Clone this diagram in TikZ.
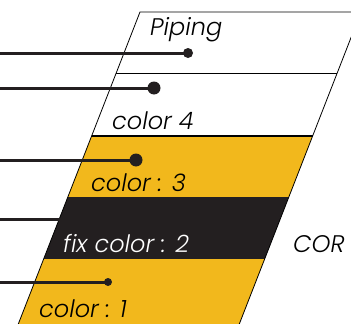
\documentclass[tikz,border=0pt]{standalone}
\usepackage{fontspec}
\newfontfamily\labelfont{Poppins}[ItalicFont={Poppins Light Italic}]
\usepackage{tikz}
\usetikzlibrary{positioning, calc}
\definecolor{bandyellow}{RGB}{242, 184, 28}
\definecolor{bandblack}{RGB}{35, 31, 32}
\definecolor{leadgray}{RGB}{35, 31, 32}

\begin{document}
\begin{tikzpicture}[
  x=1pt, y=-1pt,
  outline/.style={draw=black, line width=0.8pt},
  leader/.style={draw=leadgray, line width=3pt},
  dot/.style={circle, fill=leadgray, inner sep=0pt},
  label/.style={anchor=base west, inner sep=0pt, font=\labelfont\itshape\fontsize{24}{28}\selectfont}
]
\useasboundingbox (0,0) rectangle (351,324);

% Layers
\fill[white] (140,12) -- (361,12) -- (312.6,136) -- (91.6,136) -- cycle;
\fill[bandyellow] (91.6,136) -- (312.6,136) -- (288.8,197) -- (67.8,197) -- cycle;
\fill[bandblack] (67.8,197) -- (288.8,197) -- (264.7,259) -- (43.7,259) -- cycle;
\fill[bandyellow] (43.7,259) -- (264.7,259) -- (239.3,324) -- (18.3,324) -- cycle;

\draw[outline] (18.3,324) -- (140,12) -- (361,12) -- (239.3,324);
\draw[outline] (116.2,73) -- (337.2,73);
\draw[outline, line width=1.6pt] (91.6,136) -- (312.6,136);

% Labels
\node[label] (piping) at (150,35) {Piping};
\node[label] (col4) at (112,129) {color 4};
\node[label] (col3) at (91,191) {color : 3};
\node[label, text=white] (col2) at (63,252) {fix color : 2};
\node[label] (col1) at (39,317) {color : 1};
\node[label] (core) at (293,252) {COR};

% Leaders
\coordinate (s1) at (0,53);
\coordinate (s2) at (0,88);
\coordinate (s3) at (0,160);
\coordinate (s4) at (0,219);
\coordinate (s5) at (0,282);
\coordinate (e4) at (60,219);

\node[dot, minimum size=10pt] (d1) at (188,53) {};
\node[dot, minimum size=13pt] (d2) at (154,88) {};
\node[dot, minimum size=13pt] (d3) at (136,160) {};
\node[dot, minimum size=8pt] (d5) at (108,282) {};

\draw[leader] (s1) -- (d1.center);
\draw[leader] (s2) -- (d2.center);
\draw[leader] (s3) -- (d3.center);
\draw[leader] (s4) -- (e4);
\draw[leader] (s5) -- (d5.center);

\end{tikzpicture}
\end{document}
